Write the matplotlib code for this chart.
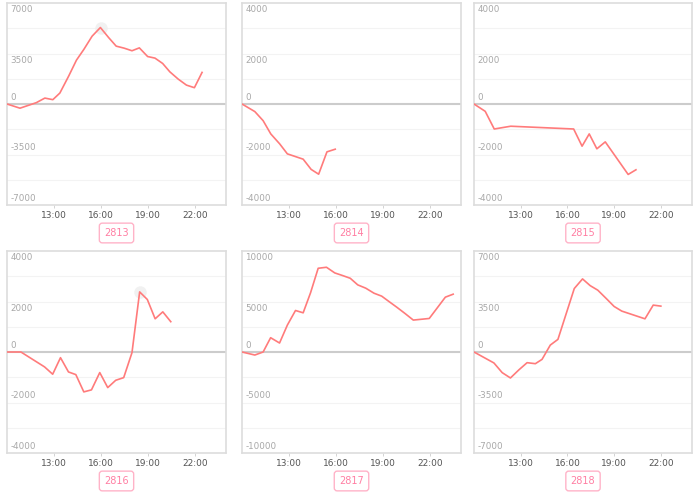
import matplotlib
matplotlib.use("Agg")
import matplotlib.pyplot as plt
import matplotlib.transforms as mtransforms

# ---- data ----
names = ["2813", "2814", "2815", "2816", "2817", "2818"]
limits = [7000, 4000, 4000, 4000, 10000, 7000]

t_2813 = [10.0, 10.83, 11.87, 12.42, 12.93, 13.38, 13.95, 14.44, 14.91, 15.44, 15.97, 16.5, 16.98,
          17.49, 17.99, 18.46, 18.99, 19.46, 19.95, 20.41, 20.94, 21.47, 21.98, 22.47]
v_2813 = [0, -290, 90, 410, 300, 760, 1950, 3040, 3780, 4700, 5300, 4600, 4010,
          3870, 3690, 3890, 3290, 3180, 2810, 2230, 1730, 1310, 1130, 2190]

t_2814 = [10.0, 10.82, 11.35, 11.84, 12.41, 12.9, 13.91, 14.42, 14.9, 15.43, 15.96]
v_2814 = [0, -300, -660, -1185, -1580, -1975, -2185, -2590, -2780, -1895, -1790]

t_2815 = [10.0, 10.72, 11.3, 12.36, 16.4, 16.94, 17.4, 17.89, 18.43, 19.9, 20.4]
v_2815 = [0, -290, -990, -880, -990, -1670, -1185, -1775, -1500, -2790, -2605]

t_2816 = [10.0, 10.89, 12.4, 12.92, 13.42, 13.93, 14.4, 14.91, 15.4, 15.93, 16.44, 16.95,
          17.46, 17.99, 18.48, 18.97, 19.47, 19.96, 20.47]
v_2816 = [0, 0, -590, -880, -225, -790, -895, -1580, -1500, -815, -1410, -1120,
          -1015, -25, 2380, 2080, 1315, 1590, 1200]

t_2817 = [10.0, 10.82, 11.35, 11.83, 12.4, 12.9, 13.42, 13.91, 14.38, 14.87, 15.4, 15.93,
          16.43, 16.92, 17.4, 17.91, 18.44, 18.93, 19.42, 19.89, 20.42, 20.95, 21.97, 23.0, 23.5]
v_2817 = [0, -300, 0, 1415, 890, 2665, 4110, 3880, 5855, 8290, 8390, 7830,
          7570, 7300, 6645, 6320, 5820, 5530, 4970, 4440, 3815, 3160, 3320, 5430, 5725]

t_2818 = [10.0, 11.28, 11.81, 12.34, 12.88, 13.41, 13.94, 14.37, 14.9, 15.39, 16.44, 16.97,
          17.46, 17.95, 18.49, 19.0, 19.49, 20.98, 21.51, 22.0]
v_2818 = [0, -760, -1430, -1800, -1240, -740, -810, -510, 480, 875, 4400, 5065,
          4600, 4285, 3710, 3155, 2835, 2300, 3250, 3180]

times = [t_2813, t_2814, t_2815, t_2816, t_2817, t_2818]
values = [v_2813, v_2814, v_2815, v_2816, v_2817, v_2818]
highlight = [(16.0, 5300), None, None, (18.48, 2380), None, None]

xticks = [13, 16, 19, 22]
xticklabels = ["13:00", "16:00", "19:00", "22:00"]

# ---- layout (pixels) ----
W, H = 700, 496
lefts = [7, 242, 474]
widths = [219, 219, 218]
tops = [3, 251]
height = 202

line_color = "#ff7b7b"
pink = "#ff7fa3"

fig = plt.figure(figsize=(7, 4.96), dpi=100)

for i, name in enumerate(names):
    r, c = divmod(i, 3)
    l, w = lefts[c], widths[c]
    t = tops[r]
    ax = fig.add_axes([l / W, 1 - (t + height) / H, w / W, height / H])
    lim = limits[i]
    ax.set_xlim(10, 24)
    ax.set_ylim(-lim, lim)
    # faint grid
    for k in range(-3, 4):
        y = lim * k / 4
        if k == 0:
            continue
        ax.axhline(y, color="#f3f3f3", lw=0.8, zorder=0)
    ax.axhline(0, color="#cccccc", lw=1.5, zorder=1)
    # y labels inside
    trans = mtransforms.blended_transform_factory(ax.transAxes, ax.transData)
    for k in (-2, -1, 0, 1, 2):
        y = lim * k / 2
        va = "top" if y > 0 else "bottom"
        off = -0.024 * lim if y > 0 else 0.024 * lim
        ax.text(0.015, y + off, f"{int(y)}", transform=trans, fontsize=6.3,
                color="#a8a8a8", ha="left", va=va)
    if highlight[i] is not None:
        hx, hy = highlight[i]
        ax.plot([hx], [hy], "o", ms=9, color="#eeeeee", alpha=0.8, zorder=2, mec="none")
    ax.plot(times[i], values[i], color=line_color, lw=1.2, zorder=3)
    ax.set_xticks(xticks)
    ax.set_xticklabels(xticklabels, fontsize=6.5, color="#555555")
    ax.tick_params(axis="x", length=2, width=0.6, color="#cccccc", pad=2)
    ax.set_yticks([])
    for s in ax.spines.values():
        s.set_color("#dddddd")
        s.set_linewidth(1.2)
    # name badge
    cx = (l + w / 2) / W
    cy = 1 - (t + height + 28) / H
    fig.text(cx, cy, name, ha="center", va="center", fontsize=7, color=pink,
             bbox=dict(boxstyle="round,pad=0.5,rounding_size=0.3", fc="white",
                       ec="#ffb3c8", lw=1.0))

fig.savefig("out.png", dpi=100)
